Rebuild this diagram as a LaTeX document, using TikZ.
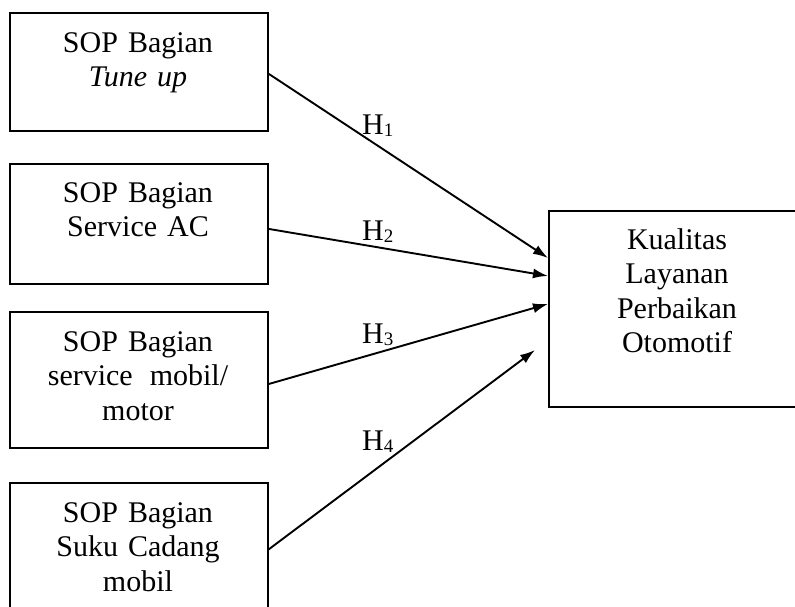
\documentclass[tikz,border=0pt]{standalone}
\usepackage{fontspec}
\setmainfont{Liberation Serif}
\usetikzlibrary{arrows.meta,calc}
\tikzset{
  box/.style={draw, line width=1.9pt, inner sep=0pt, anchor=north west},
  lbl/.style={text width=258pt, align=center, inner sep=0pt, anchor=base, font=\fontsize{30}{34.5}\selectfont},
  hlbl/.style={anchor=base west, inner sep=0pt, font=\fontsize{30}{36}\selectfont},
  conn/.style={-{Latex[length=15pt,width=10pt]}, line width=1.9pt}
}
\newcommand{\hsub}[1]{H\raisebox{-2pt}{\fontsize{19}{19}\selectfont #1}}
\begin{document}
\begin{tikzpicture}[x=1pt,y=-1pt]
\useasboundingbox (0,0) rectangle (795,606);
\clip (0,0) rectangle (795,606);
% boxes
\node[box, minimum width=258pt, minimum height=118pt] (b1) at (9,12) {};
\node[box, minimum width=258pt, minimum height=120pt] (b2) at (9,163) {};
\node[box, minimum width=258pt, minimum height=136pt] (b3) at (9,311) {};
\node[box, minimum width=258pt, minimum height=140pt] (b4) at (9,482) {};
\node[box, minimum width=258pt, minimum height=196pt] (rb) at (548,210) {};
% texts
\node[lbl] (t1) at (138,52) {SOP Bagian\\\textit{Tune up}};
\node[lbl] (t2) at (138,202) {SOP Bagian\\Service AC};
\node[lbl] (t3) at (138,351) {SOP Bagian\\service\hspace{7pt} mobil/\\motor};
\node[lbl] (t4) at (138,522) {SOP Bagian\\Suku Cadang\\mobil};
\node[lbl] (tr) at (677,249) {Kualitas\\Layanan\\Perbaikan\\Otomotif};
% connectors
\coordinate (e4) at (535,350);
\draw[conn] ($(b1.east)+(0,2)$) -- ($(rb.west)+(0,-51)$);
\draw[conn] ($(b2.east)+(0,5)$) -- ($(rb.west)+(0,-33)$);
\draw[conn] ($(b3.east)+(0,4)$) -- ($(rb.west)+(0,-5)$);
\draw[conn] ($(b4.east)+(-1,-3)$) -- (e4);
% hypothesis labels
\node[hlbl] (h1) at (362,134) {\hsub{1}};
\node[hlbl] (h2) at (362,240) {\hsub{2}};
\node[hlbl] (h3) at (362,343) {\hsub{3}};
\node[hlbl] (h4) at (362,450) {\hsub{4}};
\end{tikzpicture}
\end{document}
